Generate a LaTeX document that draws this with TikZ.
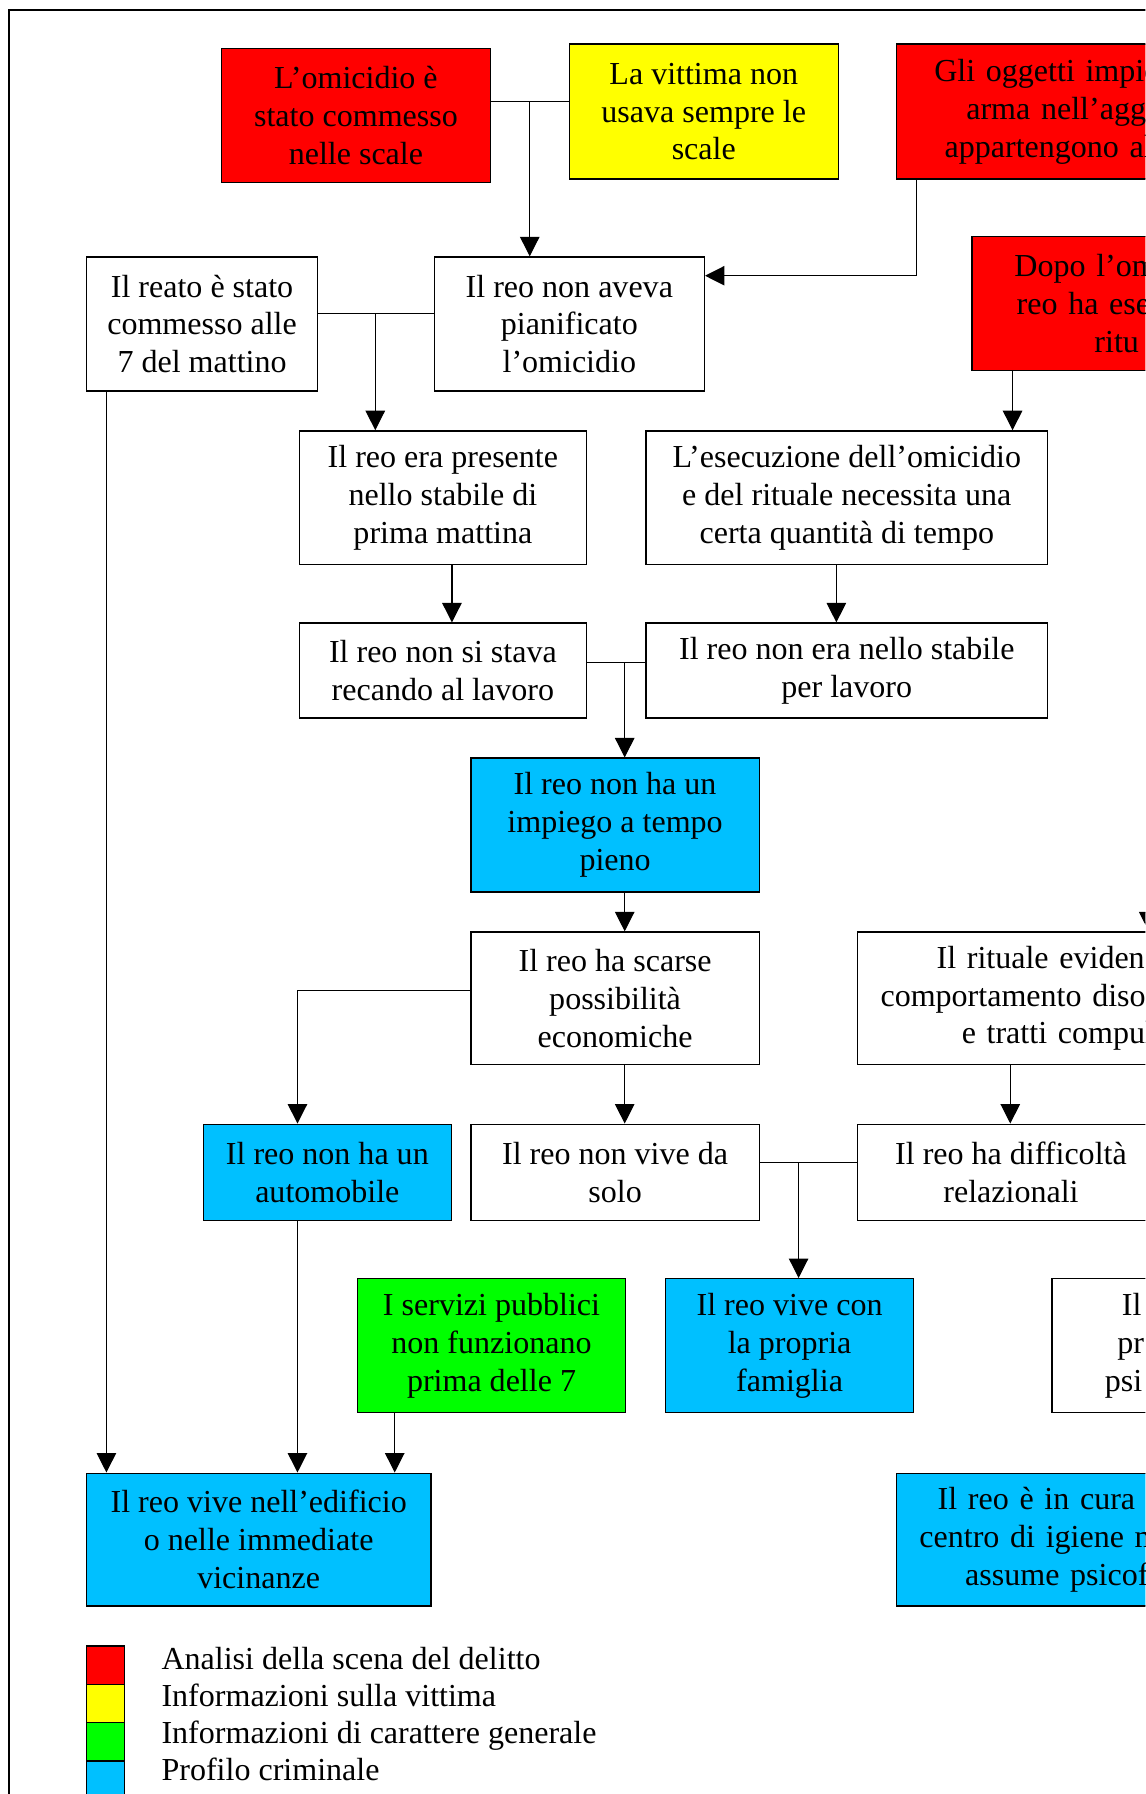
\documentclass[tikz,border=0pt]{standalone}
\usepackage{fontspec}
\setmainfont{Liberation Serif}
\usetikzlibrary{arrows.meta}
\definecolor{rosso}{RGB}{255,0,0}
\definecolor{giallo}{RGB}{255,255,0}
\definecolor{verde}{RGB}{0,255,0}
\definecolor{azzurro}{RGB}{0,192,255}

\begin{document}
\begin{tikzpicture}[%
  x=1pt, y=-1pt,
  font=\fontsize{28}{33}\selectfont,
  casella/.style={draw, line width=1.2pt, anchor=north west, align=center, inner sep=0pt},
  tagliata/.style={casella, align=left, text width=400pt},
  linea/.style={line width=1pt},
  freccia/.style={linea, -{Triangle[length=17pt,width=17pt]}},
  quadrato/.style={draw, line width=1.2pt, anchor=north west, minimum width=33pt,
    minimum height=33.5pt, inner sep=0pt}]
  \useasboundingbox (0,0) rectangle (1001,1568);
  \clip (0,0) rectangle (1001,1568);
  \draw[line width=1.5pt] (8,1600) -- (8,9) -- (1100,9);
  % prima riga
  \node[casella, fill=rosso, minimum width=235pt, minimum height=117pt] (scale) at (193,42)
    {L’omicidio è\\stato commesso\\nelle scale};
  \node[casella, fill=giallo, minimum width=235pt, minimum height=118pt] (vittima) at (497,38)
    {La vittima non\\usava sempre le\\scale};
  \node[tagliata, fill=rosso, minimum height=118pt] (oggetti) at (783,38)
    {\hspace*{33pt}Gli oggetti impie\\\hspace*{61pt}arma nell’agg\\\hspace*{42pt}appartengono al};
  % seconda riga
  \node[casella, minimum width=202pt, minimum height=117pt] (reato) at (75,224)
    {Il reato è stato\\commesso alle\\7 del mattino};
  \node[casella, minimum width=236pt, minimum height=117pt] (pianificato) at (379,224)
    {Il reo non aveva\\pianificato\\l’omicidio};
  \node[tagliata, fill=rosso, minimum height=117pt] (dopo) at (849,206)
    {\hspace*{37pt}Dopo l’om\\\hspace*{39pt}reo ha ese\\\hspace*{107pt}ritu};
  % terza riga
  \node[casella, minimum width=251pt, minimum height=117pt] (presente) at (261,376)
    {Il reo era presente\\nello stabile di\\prima mattina};
  \node[casella, minimum width=351pt, minimum height=117pt] (tempo) at (564,376)
    {L’esecuzione dell’omicidio\\e del rituale necessita una\\certa quantità di tempo};
  \node[casella, minimum width=251pt, minimum height=83pt] (lavoro) at (261,544)
    {Il reo non si stava\\recando al lavoro};
  \node[casella, minimum width=351pt, minimum height=83pt] (stabile) at (564,544)
    {Il reo non era nello stabile\\per lavoro};
  % profilo
  \node[casella, fill=azzurro, minimum width=252pt, minimum height=117pt] (impiego) at (411,662)
    {Il reo non ha un\\impiego a tempo\\pieno};
  \node[casella, minimum width=252pt, minimum height=116pt] (economiche) at (411,814)
    {Il reo ha scarse\\possibilità\\economiche};
  \node[tagliata, minimum height=116pt] (evidenza) at (749,814)
    {\hspace*{69pt}Il rituale eviden\\\hspace*{20pt}comportamento diso\\\hspace*{91pt}e tratti compul};
  \node[casella, fill=azzurro, minimum width=217pt, minimum height=84pt] (automobile) at (177,982)
    {Il reo non ha un\\automobile};
  \node[casella, minimum width=252pt, minimum height=84pt] (solo) at (411,982)
    {Il reo non vive da\\solo};
  \node[casella, minimum width=268pt, minimum height=84pt] (relazioni) at (749,982)
    {Il reo ha difficoltà\\relazionali};
  \node[casella, fill=verde, minimum width=234pt, minimum height=117pt] (servizi) at (312,1117)
    {I servizi pubblici\\non funzionano\\prima delle 7};
  \node[casella, fill=azzurro, minimum width=217pt, minimum height=117pt] (famiglia) at (581,1117)
    {Il reo vive con\\la propria\\famiglia};
  \node[tagliata, minimum height=117pt] (psico) at (919,1117)
    {\hspace*{61pt}Il\\\hspace*{57pt}pr\\\hspace*{46pt}psi};
  \node[casella, fill=azzurro, minimum width=301pt, minimum height=116pt] (vicinanze) at (75,1287)
    {Il reo vive nell’edificio\\o nelle immediate\\vicinanze};
  \node[tagliata, fill=azzurro, minimum height=116pt] (cura) at (783,1287)
    {\hspace*{36pt}Il reo è in cura p\\\hspace*{20pt}centro di igiene m\\\hspace*{60pt}assume psicof};
  % collegamenti
  \coordinate (sv) at (463,89);
  \draw[linea] (scale.east |- sv) -- (vittima.west |- sv);
  \draw[freccia] (sv) -- (sv |- pianificato.north);
  \coordinate (og) at (801,241);
  \draw[freccia] (og |- oggetti.south) -- (og) -- (pianificato.east |- og);
  \coordinate (rp) at (328,274);
  \draw[linea] (reato.east |- rp) -- (pianificato.west |- rp);
  \draw[freccia] (rp) -- (rp |- presente.north);
  \coordinate (rv) at (93,341);
  \draw[freccia] (reato.south -| rv) -- (vicinanze.north -| rv);
  \coordinate (dt) at (885,330);
  \draw[freccia] (dopo.south -| dt) -- (tempo.north -| dt);
  \coordinate (pl) at (395,500);
  \draw[freccia] (presente.south -| pl) -- (lavoro.north -| pl);
  \coordinate (ts) at (731,500);
  \draw[freccia] (tempo.south -| ts) -- (stabile.north -| ts);
  \coordinate (ls) at (546,579);
  \draw[linea] (lavoro.east |- ls) -- (stabile.west |- ls);
  \draw[freccia] (ls) -- (ls |- impiego.north);
  \draw[freccia] (impiego.south -| ls) -- (economiche.north -| ls);
  \draw[freccia] (economiche.south -| ls) -- (solo.north -| ls);
  \coordinate (ea) at (260,866);
  \draw[freccia] (economiche.west |- ea) -- (ea) -- (automobile.north -| ea);
  \draw[freccia] (automobile.south -| ea) -- (vicinanze.north -| ea);
  \coordinate (ri) at (1004,760);
  \draw[freccia] (ri) -- (ri |- evidenza.north);
  \coordinate (er) at (883,940);
  \draw[freccia] (evidenza.south -| er) -- (relazioni.north -| er);
  \coordinate (sf) at (698,1016);
  \draw[linea] (solo.east |- sf) -- (relazioni.west |- sf);
  \draw[freccia] (sf) -- (sf |- famiglia.north);
  \coordinate (sq) at (345,1240);
  \draw[freccia] (servizi.south -| sq) -- (vicinanze.north -| sq);
  % legenda
  \node[quadrato, fill=rosso] (qrosso) at (75,1438) {};
  \node[quadrato, fill=giallo] (qgiallo) at (75,1471.5) {};
  \node[quadrato, fill=verde] (qverde) at (75,1505) {};
  \node[quadrato, fill=azzurro] (qazzurro) at (75,1538.5) {};
  \node[anchor=base west, inner sep=0pt] (lrosso) at (141,1459) {Analisi della scena del delitto};
  \node[anchor=base west, inner sep=0pt] (lgiallo) at (141,1491.5) {Informazioni sulla vittima};
  \node[anchor=base west, inner sep=0pt] (lverde) at (141,1524) {Informazioni di carattere generale};
  \node[anchor=base west, inner sep=0pt] (lazzurro) at (141,1556) {Profilo criminale};
\end{tikzpicture}
\end{document}
